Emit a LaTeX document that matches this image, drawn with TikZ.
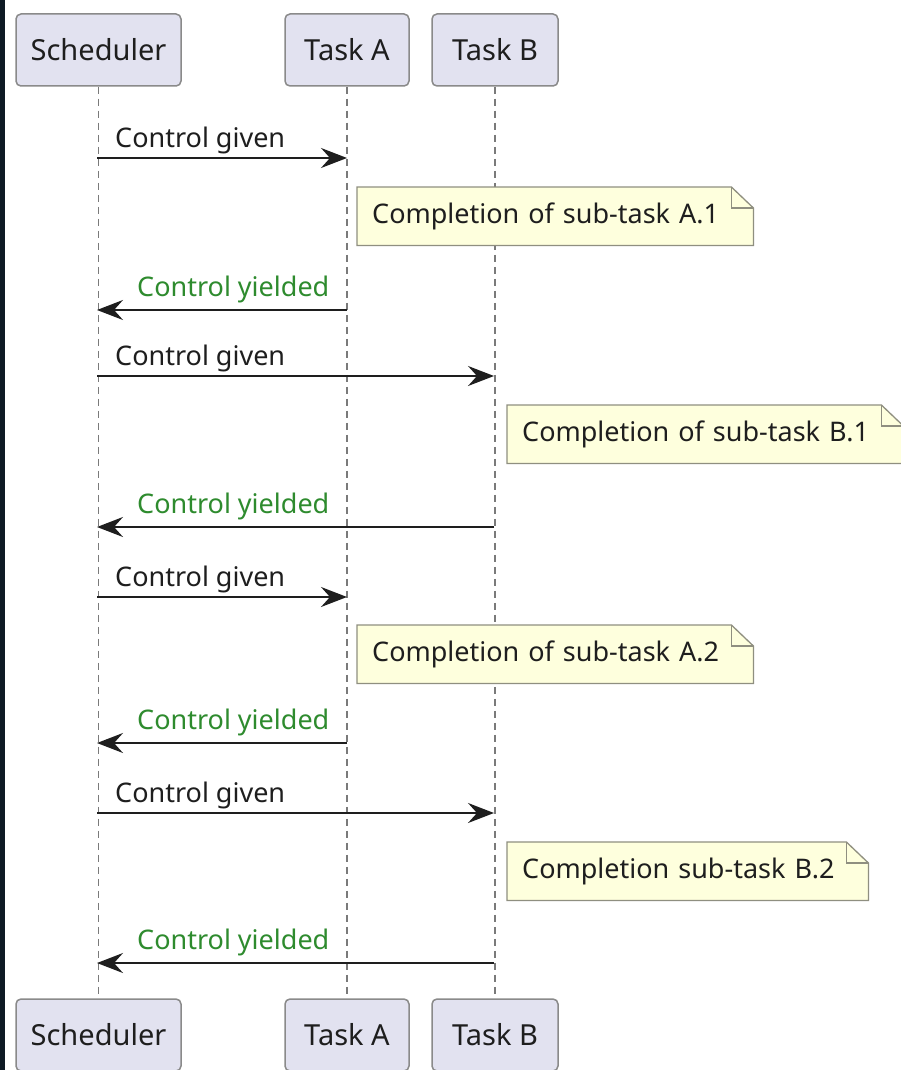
\documentclass[tikz,border=0pt]{standalone}
\usepackage{fontspec}
\setmainfont{Noto Sans}
\usetikzlibrary{arrows.meta,backgrounds}
\definecolor{partfill}{HTML}{E2E2F0}
\definecolor{partline}{HTML}{8A8A8A}
\definecolor{notefill}{HTML}{FEFFDD}
\definecolor{noteline}{HTML}{8F8F80}
\definecolor{inkdark}{HTML}{1E1E1E}
\definecolor{yieldgreen}{HTML}{2E8B2E}
\definecolor{lifegrey}{HTML}{7A7A7A}
\definecolor{edgestrip}{HTML}{0E1A24}

\begin{document}
\begin{tikzpicture}[x=1pt,y=-1pt,
  participant/.style={draw=partline, fill=partfill, line width=1.5pt,
    rounded corners=5pt, minimum height=72pt, inner sep=0pt, text=inkdark,
    font=\fontsize{29}{34}\selectfont},
  lifeline/.style={draw=lifegrey, line width=1.3pt, dash pattern=on 7pt off 5pt},
  msg/.style={draw=inkdark, line width=2pt,
    -{Stealth[length=26pt,width=20pt,inset=9pt]}},
  msglabel/.style={anchor=base west, inner sep=0pt,
    font=\fontsize{27}{32}\selectfont, text=inkdark},
  yieldlabel/.style={msglabel, text=yieldgreen},
  notetext/.style={anchor=north west, minimum height=58pt, inner xsep=15pt,
    inner ysep=0pt, align=left, font=\fontsize{27}{32}\selectfont, text=inkdark},
  notebox/.style={draw=noteline, fill=notefill, line width=1.3pt},
  notefold/.style={draw=noteline, line width=1.3pt},
]
\useasboundingbox (0,0) rectangle (900,1070);
% page ground and the dark strip at the left edge
\begin{scope}[on background layer]
  \fill[white] (0,0) rectangle (900,1070);
  \fill[edgestrip] (0,0) rectangle (5,1070);
\end{scope}

% participants, top and bottom
\node[participant, minimum width=165pt] (schedTop) at (98.5,50) {Scheduler};
\node[participant, minimum width=124pt] (taTop) at (347,50) {Task A};
\node[participant, minimum width=126pt] (tbTop) at (495,50) {Task B};
\node[participant, minimum width=165pt] (schedBot) at (98.5,1035) {Scheduler};
\node[participant, minimum width=124pt] (taBot) at (347,1035) {Task A};
\node[participant, minimum width=126pt] (tbBot) at (495,1035) {Task B};

% lifelines
\begin{scope}[on background layer]
  \draw[lifeline] (schedTop.south) -- (schedBot.north);
  \draw[lifeline] (taTop.south) -- (taBot.north);
  \draw[lifeline] (tbTop.south) -- (tbBot.north);
\end{scope}

% notes
\node[notetext, minimum width=396pt, text width=366pt] (noteA1) at (357,187) {Completion of sub-task A.1};
\node[notetext, minimum width=396pt, text width=366pt] (noteB1) at (507,405) {Completion of sub-task B.1};
\node[notetext, minimum width=396pt, text width=366pt] (noteA2) at (357,625) {Completion of sub-task A.2};
\node[notetext, minimum width=361pt, text width=331pt] (noteB2) at (507,842) {Completion sub-task B.2};
\begin{scope}[on background layer]
  \foreach \n in {noteA1,noteB1,noteA2,noteB2}{
    \path[notebox] (\n.north west) -- ([xshift=-22pt]\n.north east)
      -- ([yshift=-21pt]\n.north east) -- (\n.south east)
      -- (\n.south west) -- cycle;
    \draw[notefold] ([xshift=-22pt]\n.north east) |- ([yshift=-21pt]\n.north east);
  }
\end{scope}

% message end points on the lifelines
\coordinate (s1) at (97,158);  \coordinate (a1) at (347,158);
\coordinate (a2) at (347,310); \coordinate (s2) at (97,310);
\coordinate (s3) at (97,376);  \coordinate (b3) at (494,376);
\coordinate (b4) at (494,527); \coordinate (s4) at (97,527);
\coordinate (s5) at (97,597);  \coordinate (a5) at (347,597);
\coordinate (a6) at (347,743); \coordinate (s6) at (97,743);
\coordinate (s7) at (97,813);  \coordinate (b7) at (494,813);
\coordinate (b8) at (494,963); \coordinate (s8) at (97,963);

% messages
\draw[msg] (s1) -- (a1);
\node[msglabel] (l1) at (115,147) {Control given};
\draw[msg] (a2) -- (s2);
\node[yieldlabel] (l2) at (137,296) {Control yielded};
\draw[msg] (s3) -- (b3);
\node[msglabel] (l3) at (115,365) {Control given};
\draw[msg] (b4) -- (s4);
\node[yieldlabel] (l4) at (137,513) {Control yielded};
\draw[msg] (s5) -- (a5);
\node[msglabel] (l5) at (115,586) {Control given};
\draw[msg] (a6) -- (s6);
\node[yieldlabel] (l6) at (137,729) {Control yielded};
\draw[msg] (s7) -- (b7);
\node[msglabel] (l7) at (115,802) {Control given};
\draw[msg] (b8) -- (s8);
\node[yieldlabel] (l8) at (137,949) {Control yielded};
\end{tikzpicture}
\end{document}
